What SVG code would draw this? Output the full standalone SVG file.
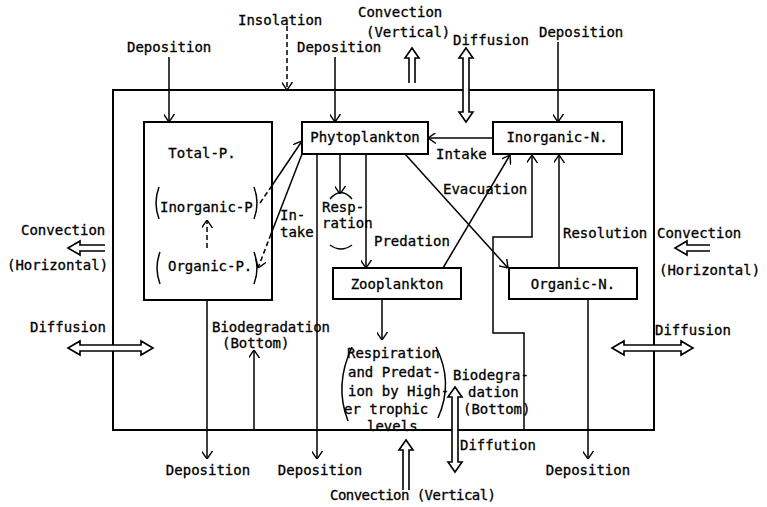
<svg xmlns="http://www.w3.org/2000/svg" width="767" height="507" viewBox="0 0 767 507">
<defs>
<marker id="a" viewBox="0 0 10 12" refX="10" refY="6" markerWidth="8" markerHeight="11" markerUnits="userSpaceOnUse" orient="auto" preserveAspectRatio="none">
<path d="M0,0 L10,6 L0,12" fill="none" stroke="#000" stroke-width="1.6"/>
</marker>
</defs>
<style>
text{font-family:"DejaVu Sans Mono","Liberation Mono",monospace;font-size:14px;fill:#000;stroke:#000;stroke-width:0.3}
.box{fill:#fff;stroke:#000;stroke-width:2}
.ln{fill:none;stroke:#000;stroke-width:1.5}
.ar{fill:none;stroke:#000;stroke-width:1.5;marker-end:url(#a)}
.dash{stroke-dasharray:5,3}
.hol{fill:#fff;stroke:#000;stroke-width:1.6;stroke-linejoin:miter}
</style>
<rect width="767" height="507" fill="#fff"/>
<rect id="outer" x="113" y="90" width="541" height="340" fill="none" stroke="#000" stroke-width="2"/>

<g id="connectors">
<line class="ar" x1="169" y1="57" x2="169" y2="122"/>
<line class="ar dash" x1="287" y1="26" x2="287" y2="90"/>
<line class="ar" x1="335" y1="57" x2="335" y2="122"/>
<line class="ar" x1="558" y1="42" x2="558" y2="122"/>
<line class="ln dash" x1="260" y1="203" x2="271" y2="187"/>
<line class="ar" x1="271" y1="187" x2="302" y2="141"/>
<line class="ln" x1="302" y1="154" x2="271" y2="234"/>
<line class="ar dash" x1="271" y1="234" x2="258" y2="268"/>
<line class="ar dash" x1="207" y1="248" x2="207" y2="220"/>
<line class="ar" x1="493" y1="138" x2="428" y2="138"/>
<line class="ar" x1="340" y1="154" x2="340" y2="194"/>
<path class="ln" d="M330,199 Q341,186 352,199"/>
<path class="ln" d="M330,245 Q341,253 352,245"/>
<line class="ar" x1="366" y1="154" x2="366" y2="268"/>
<line class="ar" x1="405" y1="154" x2="508" y2="268"/>
<line class="ar" x1="443" y1="268" x2="510" y2="155"/>
<line class="ar" x1="559" y1="268" x2="559" y2="155"/>
<path class="ar" d="M524,430 L524,333 L493,333 L493,237 L532,237 L532,155"/>
<line class="ar" x1="382" y1="299" x2="382" y2="340"/>
<line class="ar" x1="207" y1="300" x2="207" y2="459"/>
<line class="ar" x1="317" y1="154" x2="317" y2="459"/>
<line class="ar" x1="588" y1="299" x2="588" y2="459"/>
<line class="ar" x1="254" y1="430" x2="254" y2="350"/>
<path class="hol" d="M409,83 L409,58 L405,58 L412,48 L419,58 L415,58 L415,83"/>
<path class="hol" d="M463,58 L459,58 L466,48 L473,58 L469,58 L469,112 L473,112 L466,122 L459,112 L463,112 Z"/>
<path class="hol" d="M403,490 L403,450 L399,450 L406,440 L413,450 L409,450 L409,490"/>
<path class="hol" d="M452,397 L448,397 L455,387 L462,397 L458,397 L458,462 L462,462 L455,472 L448,462 L452,462 Z"/>
<path class="hol" d="M105,245 L80,245 L80,241 L68,248 L80,255 L80,251 L105,251"/>
<path class="hol" d="M710,245 L687,245 L687,241 L675,248 L687,255 L687,251 L710,251"/>
<path class="hol" d="M80,345 L80,341 L68,348 L80,355 L80,351 L141,351 L141,355 L153,348 L141,341 L141,345 Z"/>
<path class="hol" d="M624,345 L624,341 L612,348 L624,355 L624,351 L681,351 L681,355 L693,348 L681,341 L681,345 Z"/>
</g>

<g id="total-p">
<rect class="box" x="144" y="122" width="128" height="178" style="fill:none"/>
<text x="202" y="158" text-anchor="middle">Total-P.</text>
<path class="ln" d="M159,187 Q153,203 159,219"/>
<path class="ln" d="M254,187 Q260,203 254,219"/>
<text x="160" y="212">Inorganic-P</text>
<path class="ln" d="M160,252 Q154,268 160,284"/>
<path class="ln" d="M254,252 Q260,268 254,284"/>
<text x="168" y="271">Organic-P.</text>
<text x="280" y="220">In-</text>
<text x="280" y="237">take</text>
</g>

<g id="phytoplankton">
<rect class="box" x="302" y="122" width="126" height="32"/>
<text x="365" y="142" text-anchor="middle">Phytoplankton</text>
</g>

<g id="inorganic-n">
<rect class="box" x="493" y="122" width="129" height="32"/>
<text x="557" y="142" text-anchor="middle">Inorganic-N.</text>
</g>

<g id="zooplankton">
<rect class="box" x="333" y="268" width="128" height="31"/>
<text x="397" y="289" text-anchor="middle">Zooplankton</text>
</g>

<g id="organic-n">
<rect class="box" x="509" y="268" width="128" height="31"/>
<text x="573" y="289" text-anchor="middle">Organic-N.</text>
</g>

<g id="higher-trophic">
<path class="ln" d="M352,347 Q334,385 348,421"/>
<path class="ln" d="M436,347 Q454,382 438,418"/>
<text x="347" y="358">Respiration</text>
<text x="348" y="377">and Predat-</text>
<text x="348" y="396">ion by High-</text>
<text x="344" y="414">er trophic</text>
<text x="367" y="431">levels</text>
</g>

<g id="labels">
<text x="127" y="52">Deposition</text>
<text x="238" y="25">Insolation</text>
<text x="297" y="52">Deposition</text>
<text x="358" y="17">Convection</text>
<text x="366" y="37">(Vertical)</text>
<text x="453" y="45">Diffusion</text>
<text x="539" y="37">Deposition</text>
<text x="436" y="159">Intake</text>
<text x="443" y="194">Evacuation</text>
<text x="322" y="212">Resp-</text>
<text x="322" y="228">ration</text>
<text x="374" y="246">Predation</text>
<text x="563" y="238">Resolution</text>
<text x="657" y="238">Convection</text>
<text x="659" y="275">(Horizontal)</text>
<text x="655" y="335">Diffusion</text>
<text x="21" y="235">Convection</text>
<text x="7" y="270">(Horizontal)</text>
<text x="30" y="332">Diffusion</text>
<text x="212" y="332">Biodegradation</text>
<text x="222" y="348">(Bottom)</text>
<text x="453" y="380">Biodegra-</text>
<text x="468" y="397">dation</text>
<text x="463" y="414">(Bottom)</text>
<text x="460" y="450">Diffution</text>
<text x="208" y="475" text-anchor="middle">Deposition</text>
<text x="320" y="475" text-anchor="middle">Deposition</text>
<text x="588" y="475" text-anchor="middle">Deposition</text>
<text x="330" y="500" textLength="166" lengthAdjust="spacing">Convection (Vertical)</text>
</g>
</svg>
